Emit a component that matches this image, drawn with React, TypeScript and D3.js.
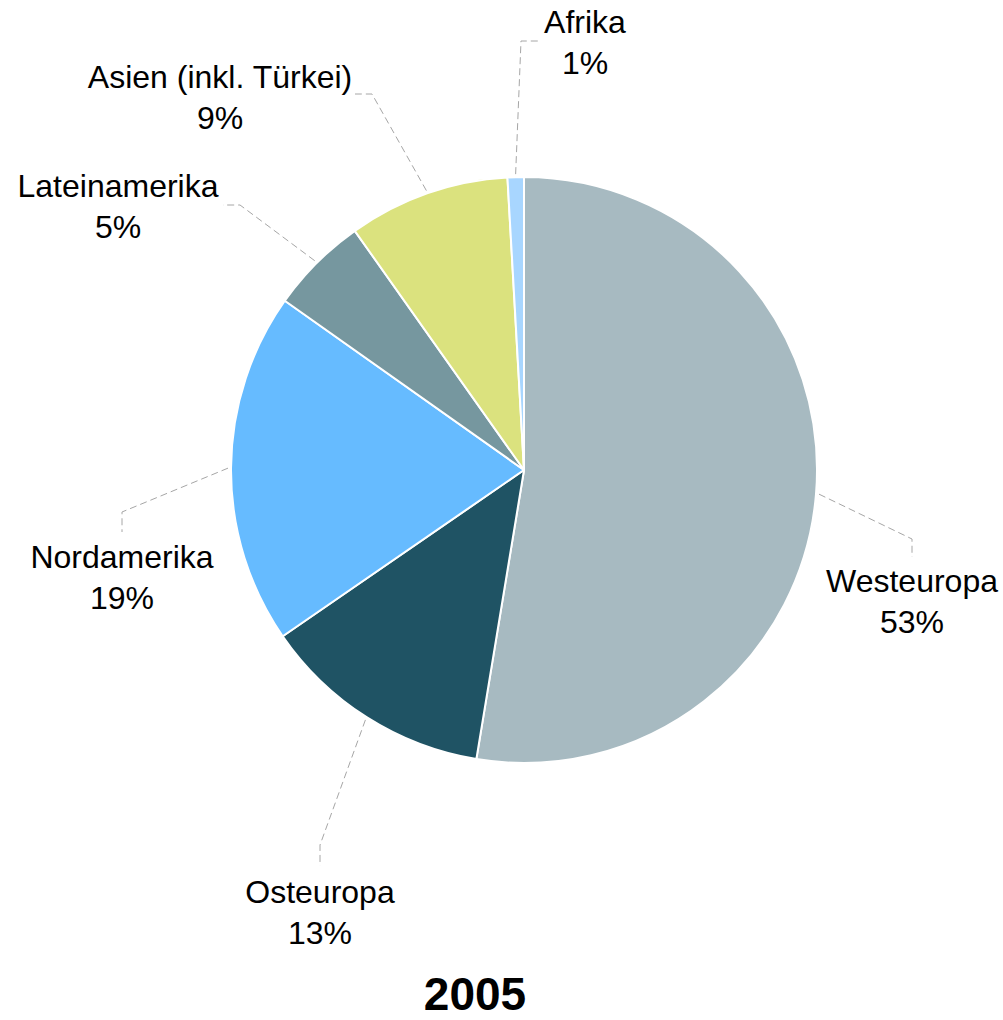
import React, { useRef, useEffect } from "react";
import * as d3 from "d3";

// regions, clockwise from 12 o'clock
const regions = ["Westeuropa", "Osteuropa", "Nordamerika", "Lateinamerika", "Asien (inkl. Türkei)", "Afrika"];
const shares = [52.6, 12.8, 19.4, 5.4, 8.9, 0.9];
const shareLabels = ["53%", "13%", "19%", "5%", "9%", "1%"];
const colors = ["#A7BAC1", "#1F5364", "#66BBFF", "#76979F", "#DBE27E", "#A8D6FF"];
const title = "2005";

// label placement: elbow of leader line, end of leader line, text anchor (center, first baseline)
const labelLayout = [
  { elbow: [912, 539], end: [912, 557], text: [912, 592] },
  { elbow: [320, 845], end: [320, 866], text: [320, 903] },
  { elbow: [122, 512], end: [122, 532], text: [122, 568] },
  { elbow: [240, 205], end: [223, 205], text: [118, 197] },
  { elbow: [372, 94], end: [355, 94], text: [220, 88] },
  { elbow: [521, 41], end: [540, 41], text: [585, 33] },
];

const W = 1003;
const H = 1020;
const cx = 524;
const cy = 470;
const radius = 293;

const App = () => {
  const ref = useRef<SVGSVGElement>(null);

  useEffect(() => {
    if (!ref.current) return;
    const svg = d3.select(ref.current);
    svg.selectAll("*").remove();

    const data = regions.map((name, i) => ({ name, value: shares[i], label: shareLabels[i], color: colors[i] }));

    const pie = d3.pie<any>().sort(null).value((d) => d.value);
    const arcs = pie(data);
    const arc = d3.arc<any>().innerRadius(0).outerRadius(radius);

    const g = svg.append("g").attr("transform", `translate(${cx},${cy})`);

    g.selectAll("path")
      .data(arcs)
      .enter()
      .append("path")
      .attr("d", arc)
      .attr("fill", (d) => d.data.color)
      .attr("stroke", "#ffffff")
      .attr("stroke-width", 2)
      .attr("stroke-linejoin", "round");

    // leader lines
    arcs.forEach((a, i) => {
      const mid = (a.startAngle + a.endAngle) / 2;
      const r0 = radius + 3;
      const sx = cx + Math.sin(mid) * r0;
      const sy = cy - Math.cos(mid) * r0;
      const lay = labelLayout[i];
      svg
        .append("path")
        .attr("d", d3.line()([[sx, sy], lay.elbow as [number, number], lay.end as [number, number]]))
        .attr("fill", "none")
        .attr("stroke", "#A6A6A6")
        .attr("stroke-width", 1)
        .attr("stroke-dasharray", "7,4");
    });

    // labels
    data.forEach((d, i) => {
      const [tx, ty] = labelLayout[i].text;
      const t = svg
        .append("text")
        .attr("text-anchor", "middle")
        .attr("font-family", "Liberation Sans, Arial, sans-serif")
        .attr("font-size", 32)
        .attr("fill", "#000000");
      t.append("tspan").attr("x", tx).attr("y", ty).text(d.name);
      t.append("tspan").attr("x", tx).attr("y", ty + 41).text(d.label);
    });

    svg
      .append("text")
      .attr("x", 475)
      .attr("y", 1010)
      .attr("text-anchor", "middle")
      .attr("font-family", "Liberation Sans, Arial, sans-serif")
      .attr("font-weight", "bold")
      .attr("font-size", 46)
      .attr("fill", "#000000")
      .text(title);
  }, []);

  return (
    <svg
      ref={ref}
      width={W}
      height={H}
      style={{ position: "absolute", left: 0, top: 0, background: "#ffffff" }}
    />
  );
};

export default App;
